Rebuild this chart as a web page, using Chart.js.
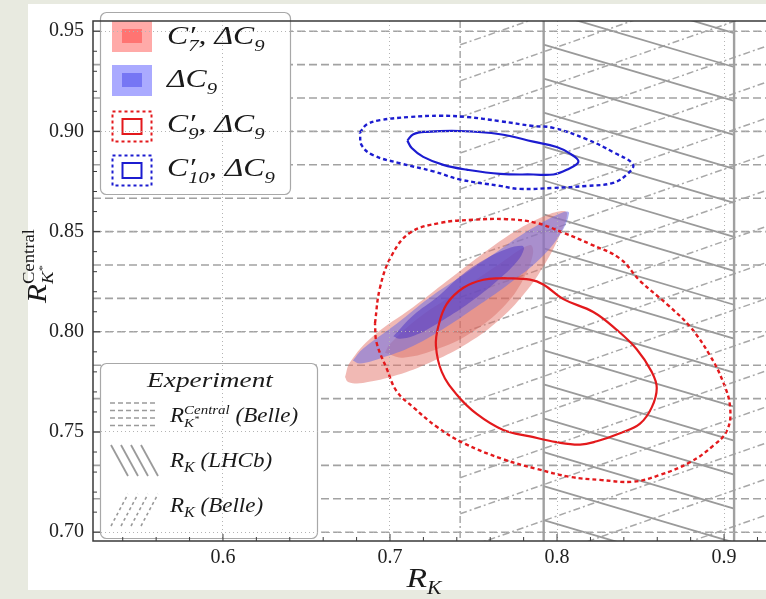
<!DOCTYPE html>
<html>
<head>
<meta charset="utf-8">
<script src="https://cdn.jsdelivr.net/npm/chart.js@4.4.1/dist/chart.umd.min.js"></script>
<style>
  html, body { margin: 0; padding: 0; background: #e8eae0; }
  #wrap { position: relative; width: 766px; height: 599px; }
</style>
</head>
<body>
<div id="wrap"><canvas id="chart" width="766" height="599"></canvas></div>
<script>
// Axis ranges and tick positions
const xRange = [0.5222, 0.9251];
const yRange = [0.6956, 0.9551];
const xTicks = [0.6, 0.7, 0.8, 0.9];
const yTicks = [0.70, 0.75, 0.80, 0.85, 0.90, 0.95];

// Experimental bands: [low, high]
const lhcbRK = [0.792, 0.906];
const belleRK = [0.742, 1.31];
const belleRKstar = [0.69, 1.17];

// C'7, dC9 fit regions (outer and inner)
const c7Outer = [[0.6731,0.7774],[0.6760,0.7847],[0.6898,0.7978],[0.7138,0.8123],[0.7341,0.8254],[0.7539,0.8380],[0.7737,0.8496],[0.7898,0.8568],[0.8018,0.8602],[0.8060,0.8592],[0.8018,0.8486],[0.7928,0.8340],[0.7808,0.8195],[0.7641,0.8050],[0.7437,0.7929],[0.7240,0.7847],[0.7042,0.7784],[0.6838,0.7745],[0.6749,0.7750]];
const c7Inner = [[0.6970,0.7895],[0.7078,0.7871],[0.7299,0.7919],[0.7497,0.8002],[0.7677,0.8123],[0.7796,0.8259],[0.7856,0.8389],[0.7838,0.8433],[0.7659,0.8341],[0.7419,0.8205],[0.7180,0.8075],[0.7000,0.7939]];

// dC9 only fit regions
const c9Outer = [[0.6778,0.7857],[0.6838,0.7915],[0.7042,0.8041],[0.7240,0.8172],[0.7437,0.8283],[0.7641,0.8399],[0.7838,0.8510],[0.8036,0.8597],[0.8072,0.8592],[0.8018,0.8486],[0.7898,0.8365],[0.7719,0.8244],[0.7539,0.8137],[0.7341,0.8026],[0.7138,0.7929],[0.6940,0.7867],[0.6820,0.7842]];
const c9Inner = [[0.7020,0.7978],[0.7140,0.8083],[0.7280,0.8171],[0.7419,0.8276],[0.7559,0.8357],[0.7699,0.8413],[0.7789,0.8429],[0.7802,0.8413],[0.7759,0.8349],[0.7639,0.8252],[0.7479,0.8147],[0.7319,0.8059],[0.7160,0.7986],[0.7060,0.7965]];

// C'9, dC9 contours
const c9pInner = [[0.7678,0.8268],[0.7838,0.8260],[0.7918,0.8236],[0.8038,0.8163],[0.8217,0.8099],[0.8357,0.8010],[0.8477,0.7913],[0.8567,0.7800],[0.8597,0.7720],[0.8567,0.7623],[0.8497,0.7542],[0.8377,0.7494],[0.8238,0.7454],[0.8138,0.7437],[0.7998,0.7449],[0.7838,0.7478],[0.7678,0.7510],[0.7519,0.7590],[0.7399,0.7687],[0.7310,0.7800],[0.7275,0.7929],[0.7289,0.8026],[0.7340,0.8139],[0.7439,0.8220],[0.7559,0.8260]];
const c9pOuter = [[0.6910,0.8042],[0.6940,0.8220],[0.7010,0.8381],[0.7120,0.8494],[0.7299,0.8543],[0.7499,0.8559],[0.7699,0.8562],[0.7878,0.8543],[0.8038,0.8494],[0.8198,0.8438],[0.8377,0.8365],[0.8497,0.8254],[0.8659,0.8137],[0.8796,0.8026],[0.8916,0.7881],[0.8994,0.7750],[0.9036,0.7624],[0.9018,0.7508],[0.8934,0.7431],[0.8796,0.7349],[0.8617,0.7286],[0.8455,0.7252],[0.8257,0.7261],[0.8078,0.7276],[0.7878,0.7316],[0.7678,0.7364],[0.7439,0.7445],[0.7280,0.7526],[0.7140,0.7623],[0.7040,0.7703],[0.6980,0.7817],[0.6920,0.7945]];

// C'10, dC9 contours
const c10Inner = [[0.7104,0.8954],[0.7140,0.8986],[0.7220,0.8998],[0.7419,0.9002],[0.7659,0.8986],[0.7858,0.8949],[0.7998,0.8922],[0.8078,0.8889],[0.8128,0.8849],[0.8058,0.8809],[0.7978,0.8785],[0.7858,0.8785],[0.7659,0.8788],[0.7459,0.8809],[0.7319,0.8833],[0.7199,0.8873],[0.7130,0.8917]];
const c10Outer = [[0.6820,0.8994],[0.6860,0.9034],[0.6940,0.9056],[0.7120,0.9072],[0.7299,0.9078],[0.7459,0.9072],[0.7659,0.9051],[0.7856,0.9027],[0.7976,0.9018],[0.8180,0.8960],[0.8335,0.8897],[0.8455,0.8834],[0.8419,0.8786],[0.8335,0.8743],[0.8180,0.8728],[0.7976,0.8718],[0.7778,0.8713],[0.7659,0.8728],[0.7419,0.8760],[0.7259,0.8801],[0.7060,0.8841],[0.6900,0.8881],[0.6831,0.8930]];

const RED = '#e3191c';
const BLUE = '#1c1cd0';
const SERIF = '"Liberation Serif", "DejaVu Serif", serif';

const loop = pts => [...pts, pts[0]].map(([x, y]) => ({x, y}));

function contour(data, color, dash, width) {
  return {
    data: loop(data), showLine: true, fill: false, tension: 0.4,
    borderColor: color, borderWidth: width, borderDash: dash,
    pointRadius: 0, pointHoverRadius: 0
  };
}
function region(data, color) {
  return {
    data: loop(data), showLine: true, fill: 'shape', tension: 0.4,
    backgroundColor: color, borderColor: 'rgba(0,0,0,0)', borderWidth: 0.01,
    pointRadius: 0, pointHoverRadius: 0
  };
}

function fontOf(size, italic) {
  return (italic === false ? '' : 'italic ') + size + 'px ' + SERIF;
}

// lays out text runs with sub/superscripts; 'prev' stacks a run under the previous one
function drawRich(ctx, x, y, parts, opts = {}) {
  ctx.save();
  ctx.translate(x, y);
  if (opts.rotate) ctx.rotate(opts.rotate);
  ctx.scale(opts.stretch || 1.15, 1);
  let cx = 0, prevStart = 0, maxX = 0;
  const placed = [];
  for (const p of parts) {
    ctx.font = fontOf(p.size, p.italic);
    const w = ctx.measureText(p.t).width;
    let start = cx;
    if (p.at === 'prev') start = prevStart;
    if (p.at === 'max') start = maxX;
    placed.push([p, start]);
    prevStart = start;
    cx = start + w;
    maxX = Math.max(maxX, cx);
  }
  const off = opts.align === 'center' ? -maxX / 2 : 0;
  ctx.fillStyle = '#1a1a1a';
  ctx.textAlign = 'left';
  ctx.textBaseline = 'alphabetic';
  for (const [p, sx] of placed) {
    ctx.font = fontOf(p.size, p.italic);
    ctx.fillText(p.t, sx + off, p.dy || 0);
  }
  ctx.restore();
}

function roundBox(ctx, x, y, w, h, r) {
  ctx.beginPath();
  ctx.roundRect(x, y, w, h, r);
  ctx.fillStyle = '#fff';
  ctx.fill();
  ctx.strokeStyle = '#a8a8a8';
  ctx.lineWidth = 1.2;
  ctx.stroke();
}

// family of parallel lines y = base + k*step + slope*(x - x0), x in [x0, x1]
function hatch(ctx, sx, sy, x0, x1, base, step, slope) {
  for (let k = -90; k <= 90; k++) {
    const ya = base + k * step;
    const yb = ya + slope * (x1 - x0);
    ctx.beginPath();
    ctx.moveTo(sx.getPixelForValue(x0), sy.getPixelForValue(ya));
    ctx.lineTo(sx.getPixelForValue(x1), sy.getPixelForValue(yb));
    ctx.stroke();
  }
}

const decor = {
  id: 'decor',
  beforeDraw(chart) {
    const ctx = chart.ctx;
    ctx.save();
    ctx.fillStyle = '#e8eae0';
    ctx.fillRect(0, 0, chart.width, chart.height);
    ctx.fillStyle = '#ffffff';
    ctx.fillRect(28, 4, chart.width - 28, 586);
    ctx.restore();
  },
  beforeDatasetsDraw(chart) {
    const {ctx, chartArea: a, scales: {x: sx, y: sy}} = chart;
    ctx.save();
    ctx.beginPath();
    ctx.rect(a.left, a.top, a.right - a.left, a.bottom - a.top);
    ctx.clip();

    // Belle R_K* band: horizontal dashes
    ctx.save();
    const s0 = sy.getPixelForValue(belleRKstar[1]);
    ctx.beginPath();
    ctx.rect(a.left, s0, a.right - a.left, sy.getPixelForValue(belleRKstar[0]) - s0);
    ctx.clip();
    ctx.strokeStyle = '#a2a2a2';
    ctx.lineWidth = 1.6;
    ctx.setLineDash([8, 4]);
    hatch(ctx, sx, sy, xRange[0], xRange[1], 0.70, 1 / 60, 0);
    ctx.restore();

    // Belle R_K band: dash-dot rising lines
    ctx.save();
    const bl = sx.getPixelForValue(belleRK[0]);
    ctx.beginPath();
    ctx.rect(bl, a.top, sx.getPixelForValue(belleRK[1]) - bl, a.bottom - a.top);
    ctx.clip();
    ctx.strokeStyle = '#a8a8a8';
    ctx.lineWidth = 1.5;
    ctx.setLineDash([7, 3, 2, 3]);
    hatch(ctx, sx, sy, belleRK[0], belleRK[1], 0.7092, 0.018, 0.291);
    ctx.restore();
    ctx.strokeStyle = '#a8a8a8';
    ctx.lineWidth = 1.5;
    ctx.setLineDash([7, 3, 2, 3]);
    ctx.beginPath();
    ctx.moveTo(bl, a.top);
    ctx.lineTo(bl, a.bottom);
    ctx.stroke();

    // LHCb R_K band: solid falling lines
    ctx.save();
    const l0 = sx.getPixelForValue(lhcbRK[0]);
    const l1 = sx.getPixelForValue(lhcbRK[1]);
    ctx.beginPath();
    ctx.rect(l0, a.top, l1 - l0, a.bottom - a.top);
    ctx.clip();
    ctx.setLineDash([]);
    ctx.strokeStyle = '#9a9a9a';
    ctx.lineWidth = 1.8;
    hatch(ctx, sx, sy, lhcbRK[0], lhcbRK[1], 0.9433, 0.01695, -0.2465);
    ctx.restore();
    ctx.setLineDash([]);
    ctx.strokeStyle = '#a0a0a0';
    ctx.lineWidth = 2.4;
    for (const px of [l0, l1]) {
      ctx.beginPath();
      ctx.moveTo(px, a.top);
      ctx.lineTo(px, a.bottom);
      ctx.stroke();
    }
    ctx.restore();
  },
  afterDatasetsDraw(chart) {
    const ctx = chart.ctx;
    ctx.save();
    // legend boxes and swatches
    roundBox(ctx, 100.5, 12.5, 190, 182, 6);
    roundBox(ctx, 100.5, 363.5, 217, 175, 6);

    ctx.fillStyle = '#ffaaa8';
    ctx.fillRect(112, 21, 40, 31);
    ctx.fillStyle = '#ff7472';
    ctx.fillRect(122, 29, 20, 14);
    ctx.fillStyle = '#aaaaff';
    ctx.fillRect(112, 65, 40, 31);
    ctx.fillStyle = '#7676f4';
    ctx.fillRect(122, 73, 20, 14);

    const dottedSwatch = (y, color) => {
      ctx.strokeStyle = color;
      ctx.lineWidth = 2;
      ctx.setLineDash([3, 3]);
      ctx.strokeRect(112.5, y, 39, 30);
      ctx.setLineDash([]);
      ctx.strokeRect(122.5, y + 7.5, 19, 15);
    };
    dottedSwatch(111.5, RED);
    dottedSwatch(155.5, BLUE);

    // experiment legend icons
    ctx.strokeStyle = '#9a9a9a';
    ctx.lineWidth = 1.6;
    ctx.setLineDash([5, 3]);
    for (const y of [403, 410.5, 418, 425.5]) {
      ctx.beginPath(); ctx.moveTo(110, y); ctx.lineTo(156, y); ctx.stroke();
    }
    ctx.setLineDash([]);
    ctx.lineWidth = 1.8;
    for (let i = 0; i < 4; i++) {
      ctx.beginPath(); ctx.moveTo(111 + 10 * i, 445); ctx.lineTo(128 + 10 * i, 476); ctx.stroke();
    }
    ctx.setLineDash([3, 3]);
    ctx.lineWidth = 1.6;
    for (let i = 0; i < 4; i++) {
      ctx.beginPath(); ctx.moveTo(111 + 10 * i, 526); ctx.lineTo(128 + 10 * i, 494); ctx.stroke();
    }
    ctx.restore();
  },
  afterDraw(chart) {
    const {ctx, chartArea: a, scales: {x: sx, y: sy}} = chart;
    ctx.save();
    // frame
    ctx.strokeStyle = '#3a3a3a';
    ctx.lineWidth = 1.5;
    ctx.beginPath();
    ctx.moveTo(a.right, a.top); ctx.lineTo(a.left, a.top);
    ctx.lineTo(a.left, a.bottom); ctx.lineTo(a.right, a.bottom);
    ctx.stroke();
    // inward ticks
    ctx.lineWidth = 1;
    for (let i = 27; i <= 46; i++) {
      const v = i * 0.02, px = sx.getPixelForValue(v);
      const len = i % 5 === 0 ? 7 : 4;
      ctx.beginPath(); ctx.moveTo(px, a.bottom); ctx.lineTo(px, a.bottom - len); ctx.stroke();
    }
    for (let i = 70; i <= 95; i++) {
      const py = sy.getPixelForValue(i / 100);
      const len = i % 5 === 0 ? 7 : 4;
      ctx.beginPath(); ctx.moveTo(a.left, py); ctx.lineTo(a.left + len, py); ctx.stroke();
    }

    // legend text
    const big = t => ({t, size: 26});
    const sub = (t, at) => ({t, size: 17, dy: 7, at});
    const primed = n => [big('C'), big('′'), sub(n, 'prev'), {t: ', ΔC', size: 26, at: 'max'}, sub('9')];
    drawRich(ctx, 167, 44, primed('7'), {stretch: 1.22});
    drawRich(ctx, 167, 87, [big('ΔC'), sub('9')], {stretch: 1.22});
    drawRich(ctx, 167, 132, primed('9'), {stretch: 1.22});
    drawRich(ctx, 167, 176, primed('10'), {stretch: 1.22});

    drawRich(ctx, 210, 387, [{t: 'Experiment', size: 21}], {align: 'center', stretch: 1.3});
    drawRich(ctx, 170, 422, [{t: 'R', size: 20}, {t: 'Central', size: 13, dy: -8}, {t: 'K', size: 13, dy: 5, at: 'prev'}, {t: '*', size: 9, dy: 0}, {t: ' (Belle)', size: 20, at: 'max'}], {stretch: 1.15});
    drawRich(ctx, 170, 467, [{t: 'R', size: 20}, {t: 'K', size: 14, dy: 5}, {t: ' (LHCb)', size: 20}], {stretch: 1.15});
    drawRich(ctx, 170, 512, [{t: 'R', size: 20}, {t: 'K', size: 14, dy: 5}, {t: ' (Belle)', size: 20}], {stretch: 1.15});

    // axis titles
    drawRich(ctx, 424, 587, [{t: 'R', size: 28}, {t: 'K', size: 18, dy: 7}], {align: 'center', stretch: 1.2});
    drawRich(ctx, 46, 266, [{t: 'R', size: 28}, {t: 'Central', size: 17, dy: -12, italic: false}, {t: 'K', size: 17, dy: 7, at: 'prev'}, {t: '*', size: 11, dy: 0}], {align: 'center', rotate: -Math.PI / 2, stretch: 1.1});
    ctx.restore();
  }
};

new Chart(document.getElementById('chart'), {
  type: 'scatter',
  data: {
    datasets: [
      contour(c9pInner, RED, [], 2.2),
      contour(c9pOuter, RED, [4, 3], 2.4),
      contour(c10Inner, BLUE, [], 2.2),
      contour(c10Outer, BLUE, [4, 3], 2.4),
      region(c9Inner, 'rgba(75, 50, 195, 0.5)'),
      region(c9Outer, 'rgba(110, 110, 225, 0.55)'),
      region(c7Inner, 'rgba(215, 95, 85, 0.4)'),
      region(c7Outer, 'rgba(228, 115, 105, 0.5)')
    ]
  },
  options: {
    responsive: false,
    animation: false,
    events: [],
    layout: { padding: { top: 5, right: 0, left: 0, bottom: 0 } },
    plugins: { legend: { display: false }, tooltip: { enabled: false } },
    scales: {
      x: {
        type: 'linear', min: xRange[0], max: xRange[1],
        afterBuildTicks: s => { s.ticks = xTicks.map(value => ({value})); },
        afterFit: s => { s.height = 58; },
        ticks: { font: { family: SERIF, size: 20 }, color: '#222', padding: 5, maxRotation: 0, callback: v => v.toFixed(1) },
        grid: { color: '#b4b4b4', lineWidth: 1, drawTicks: false, z: 1 },
        border: { display: false, dash: [1, 3] }
      },
      y: {
        type: 'linear', min: yRange[0], max: yRange[1],
        afterBuildTicks: s => { s.ticks = yTicks.map(value => ({value})); },
        afterFit: s => { s.width = 93; },
        ticks: { font: { family: SERIF, size: 20 }, color: '#222', padding: 9, callback: v => v.toFixed(2) },
        grid: { color: '#b4b4b4', lineWidth: 1, drawTicks: false, z: 1 },
        border: { display: false, dash: [1, 3] }
      }
    }
  },
  plugins: [decor]
});
</script>
</body>
</html>
